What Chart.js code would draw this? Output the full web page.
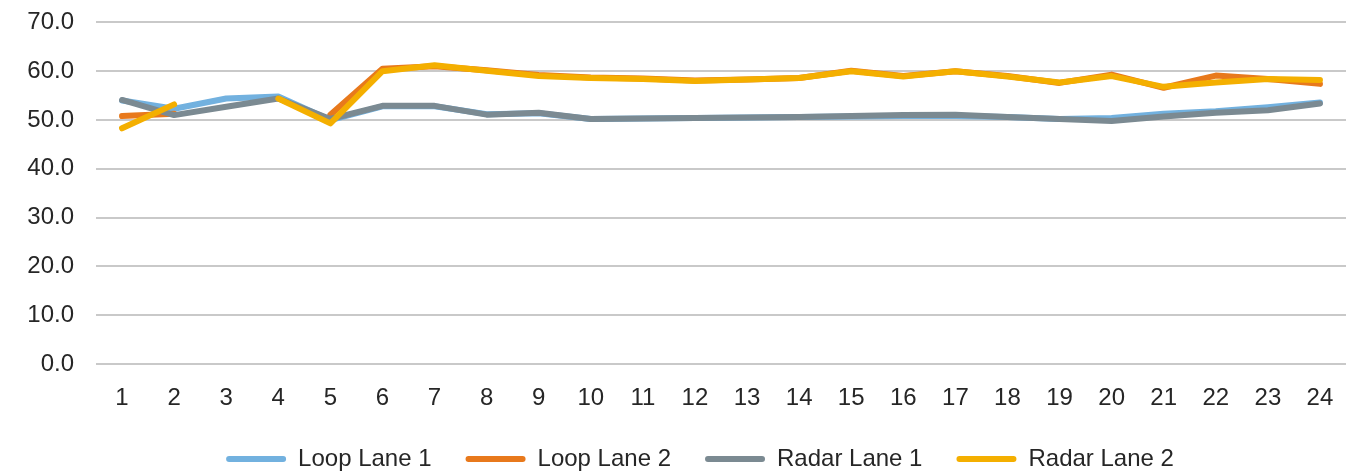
<!DOCTYPE html>
<html>
<head>
<meta charset="utf-8">
<script src="https://cdn.jsdelivr.net/npm/chart.js@4.4.1/dist/chart.umd.min.js"></script>
<style>
  html, body { margin: 0; padding: 0; background: #ffffff; overflow: hidden; }
  #wrap { position: absolute; left: 0; top: -14px; width: 1354px; height: 495px; }
</style>
</head>
<body>
<div id="wrap"><canvas id="chart"></canvas></div>
<script>
const categories = ['1','2','3','4','5','6','7','8','9','10','11','12','13','14','15','16','17','18','19','20','21','22','23','24'];

const loopLane1  = [54.0, 52.3, 54.4, 54.8, 50.0, 52.8, 52.8, 51.2, 51.4, 50.2, 50.3, 50.4, 50.5, 50.6, 50.7, 50.8, 50.8, 50.6, 50.2, 50.4, 51.3, 51.8, 52.6, 53.6];
const loopLane2  = [50.8, 51.3, null, null, 51.1, 60.5, 61.0, 60.2, 59.2, 58.7, 58.5, 58.1, 58.3, 58.6, 60.1, 59.0, 60.0, 59.0, 57.6, 59.3, 56.6, 59.1, 58.4, 57.4];
const radarLane1 = [54.1, 51.0, 52.7, 54.4, 50.2, 52.9, 52.9, 51.1, 51.5, 50.2, 50.3, 50.4, 50.5, 50.6, 50.8, 51.0, 51.1, 50.6, 50.2, 49.8, 50.7, 51.5, 52.0, 53.4];
const radarLane2 = [48.3, 53.2, null, 54.4, 49.3, 60.0, 61.2, 60.1, 59.0, 58.6, 58.4, 58.0, 58.3, 58.6, 60.0, 58.9, 60.0, 58.9, 57.7, 59.0, 56.8, 57.7, 58.4, 58.2];

const seriesNames = ['Loop Lane 1', 'Loop Lane 2', 'Radar Lane 1', 'Radar Lane 2'];
const yTicks = [0, 10, 20, 30, 40, 50, 60, 70];

const colors = ['#72B1DF', '#E8791C', '#7B8A92', '#F4AF00'];
const seriesData = [loopLane1, loopLane2, radarLane1, radarLane2];

const datasets = seriesData.map((d, i) => ({
  label: seriesNames[i],
  data: d,
  borderColor: colors[i],
  backgroundColor: colors[i],
  borderWidth: 6,
  pointRadius: 0,
  pointHoverRadius: 0,
  tension: 0,
  spanGaps: false,
  borderCapStyle: 'round',
  borderJoinStyle: 'round',
  fill: false,
  order: 4 - i
}));

const FONT = 'Liberation Sans, Arial, sans-serif';
const TEXT = '#262626';

const legendShift = {
  id: 'legendShift',
  afterLayout(chart) {
    if (chart.legend) {
      chart.legend.left += 27;
      chart.legend.right += 27;
    }
  }
};

new Chart(document.getElementById('chart'), {
  type: 'line',
  data: { labels: categories, datasets },
  plugins: [legendShift],
  options: {
    responsive: true,
    maintainAspectRatio: false,
    animation: false,
    layout: { padding: { left: 0, right: 8, top: 7, bottom: 0 } },
    plugins: {
      tooltip: { enabled: false },
      legend: {
        position: 'bottom',
        labels: {
          font: { family: FONT, size: 24 },
          color: TEXT,
          boxWidth: 60,
          boxHeight: 6,
          padding: 34,
          useBorderRadius: true,
          borderRadius: 3,
          generateLabels: (chart) => chart.data.datasets.map((ds, i) => ({
            text: ds.label,
            fillStyle: ds.borderColor,
            strokeStyle: ds.borderColor,
            lineWidth: 0,
            hidden: false,
            datasetIndex: i,
            fontColor: TEXT,
            borderRadius: 3
          }))
        }
      }
    },
    scales: {
      x: {
        offset: true,
        afterFit: (scale) => { scale.height = 49; },
        grid: { display: false, drawTicks: false },
        border: { display: false },
        ticks: {
          font: { family: FONT, size: 24 },
          color: TEXT,
          padding: 20,
          maxRotation: 0,
          autoSkip: false
        }
      },
      y: {
        min: 0,
        max: 70,
        afterFit: (scale) => { scale.width = 96; },
        afterBuildTicks: (scale) => { scale.ticks = yTicks.map(v => ({ value: v })); },
        grid: { color: '#C9C9C9', lineWidth: 2, drawTicks: false },
        border: { display: false },
        ticks: {
          font: { family: FONT, size: 24 },
          color: TEXT,
          padding: 22,
          callback: (v) => Number(v).toFixed(1)
        }
      }
    }
  }
});
</script>
</body>
</html>
